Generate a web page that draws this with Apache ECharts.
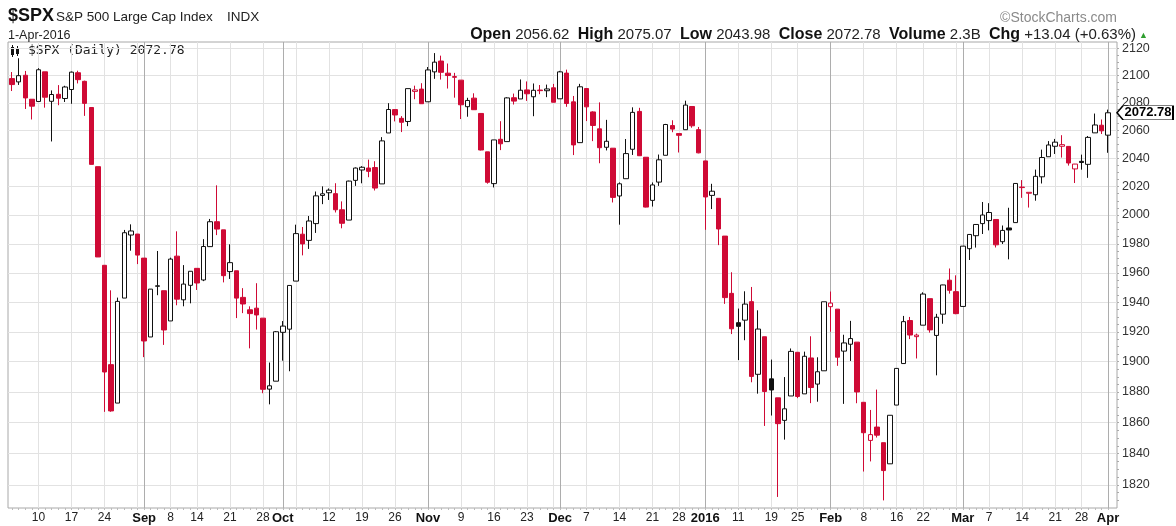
<!DOCTYPE html>
<html>
<head>
<meta charset="utf-8">
<title>$SPX Daily</title>
<script src="https://cdn.jsdelivr.net/npm/echarts@6/dist/echarts.min.js"></script>
<style>
  html, body { margin: 0; padding: 0; background: #fff; }
  #chart { width: 1176px; height: 526px; }
</style>
</head>
<body>
<div id="chart"></div>
<script>
// trading days, Aug 4 2015 - Apr 1 2016
const dates = [
  '2015-08-04','2015-08-05','2015-08-06','2015-08-07','2015-08-10','2015-08-11','2015-08-12','2015-08-13','2015-08-14','2015-08-17',
  '2015-08-18','2015-08-19','2015-08-20','2015-08-21','2015-08-24','2015-08-25','2015-08-26','2015-08-27','2015-08-28','2015-08-31',
  '2015-09-01','2015-09-02','2015-09-03','2015-09-04','2015-09-08','2015-09-09','2015-09-10','2015-09-11','2015-09-14','2015-09-15',
  '2015-09-16','2015-09-17','2015-09-18','2015-09-21','2015-09-22','2015-09-23','2015-09-24','2015-09-25','2015-09-28','2015-09-29','2015-09-30',
  '2015-10-01','2015-10-02','2015-10-05','2015-10-06','2015-10-07','2015-10-08','2015-10-09','2015-10-12','2015-10-13','2015-10-14','2015-10-15',
  '2015-10-16','2015-10-19','2015-10-20','2015-10-21','2015-10-22','2015-10-23','2015-10-26','2015-10-27','2015-10-28','2015-10-29','2015-10-30',
  '2015-11-02','2015-11-03','2015-11-04','2015-11-05','2015-11-06','2015-11-09','2015-11-10','2015-11-11','2015-11-12','2015-11-13',
  '2015-11-16','2015-11-17','2015-11-18','2015-11-19','2015-11-20','2015-11-23','2015-11-24','2015-11-25','2015-11-27','2015-11-30',
  '2015-12-01','2015-12-02','2015-12-03','2015-12-04','2015-12-07','2015-12-08','2015-12-09','2015-12-10','2015-12-11','2015-12-14','2015-12-15',
  '2015-12-16','2015-12-17','2015-12-18','2015-12-21','2015-12-22','2015-12-23','2015-12-24','2015-12-28','2015-12-29','2015-12-30','2015-12-31',
  '2016-01-04','2016-01-05','2016-01-06','2016-01-07','2016-01-08','2016-01-11','2016-01-12','2016-01-13','2016-01-14','2016-01-15',
  '2016-01-19','2016-01-20','2016-01-21','2016-01-22','2016-01-25','2016-01-26','2016-01-27','2016-01-28','2016-01-29',
  '2016-02-01','2016-02-02','2016-02-03','2016-02-04','2016-02-05','2016-02-08','2016-02-09','2016-02-10','2016-02-11','2016-02-12',
  '2016-02-16','2016-02-17','2016-02-18','2016-02-19','2016-02-22','2016-02-23','2016-02-24','2016-02-25','2016-02-26','2016-02-29',
  '2016-03-01','2016-03-02','2016-03-03','2016-03-04','2016-03-07','2016-03-08','2016-03-09','2016-03-10','2016-03-11','2016-03-14','2016-03-15',
  '2016-03-16','2016-03-17','2016-03-18','2016-03-21','2016-03-22','2016-03-23','2016-03-24','2016-03-28','2016-03-29','2016-03-30','2016-03-31',
  '2016-04-01'
];
const opens = [
  2097.68,2095.27,2100.13,2082.61,2080.98,2102.66,2081.10,2086.19,2083.15,2089.70,2101.99,2095.69,2076.61,2034.08,1965.15,1898.08,1872.75,1942.77,1986.06,1986.73,
  1970.09,1916.52,1950.79,1947.76,1927.30,1971.45,1941.59,1951.45,1963.06,1955.10,1978.02,1995.33,1989.66,1960.84,1961.39,1943.24,1934.81,1935.93,1929.18,1881.90,1887.14,
  1919.65,1921.77,1954.33,1986.63,1982.34,1994.01,2013.73,2015.65,2015.00,2003.66,1996.47,2024.37,2031.73,2033.13,2033.47,2021.88,2058.19,2075.08,2068.75,2066.48,2088.35,2090.00,
  2080.76,2102.63,2110.60,2101.68,2098.60,2096.56,2077.19,2083.41,2072.29,2044.64,2022.08,2053.67,2051.99,2083.70,2082.82,2089.41,2084.42,2089.30,2088.82,2090.95,
  2082.93,2101.71,2080.71,2051.24,2090.42,2073.39,2061.17,2047.93,2047.27,2013.37,2025.55,2046.50,2073.76,2040.81,2010.27,2023.15,2042.20,2063.52,2057.77,2060.54,2077.34,2060.59,
  2038.20,2013.78,2011.71,1985.32,1945.97,1926.12,1927.83,1940.34,1891.68,1916.68,1888.66,1876.18,1861.46,1877.40,1906.28,1878.79,1902.52,1885.22,1894.00,
  1936.94,1935.26,1907.07,1911.67,1913.07,1873.25,1848.46,1857.10,1847.00,1833.40,1871.44,1898.80,1927.57,1916.74,1924.44,1942.38,1917.56,1931.87,1954.95,1947.13,
  1937.09,1976.60,1985.60,1994.01,1996.11,1996.88,1981.44,1990.97,1994.71,2019.27,2015.27,2014.24,2026.90,2041.16,2048.64,2048.64,2048.55,2032.48,2037.89,2035.75,2058.27,2063.77,
  2056.62
];
const highs = [
  2102.51,2112.66,2103.32,2082.61,2105.35,2102.66,2089.06,2092.93,2092.45,2102.87,2103.47,2096.17,2076.61,2034.08,1965.15,1948.04,1943.09,1989.60,1993.48,1986.73,
  1970.09,1948.91,1975.01,1947.76,1970.42,1988.63,1965.29,1961.05,1963.06,1983.19,1997.26,2020.86,1989.66,1979.64,1961.39,1949.52,1937.17,1952.89,1929.18,1899.48,1920.53,
  1927.21,1951.36,1993.26,1991.62,1999.31,2016.50,2020.13,2018.66,2022.34,2009.56,2024.15,2033.54,2034.45,2039.12,2037.97,2055.20,2079.74,2075.14,2070.37,2090.35,2092.52,2094.32,
  2106.20,2116.48,2114.59,2108.78,2101.91,2096.56,2083.67,2086.94,2072.29,2044.64,2053.22,2066.69,2084.07,2086.74,2097.06,2095.61,2094.12,2093.00,2093.29,2093.81,
  2103.37,2104.27,2085.00,2093.84,2090.42,2073.85,2080.33,2067.65,2047.27,2022.92,2053.87,2076.72,2076.37,2040.81,2022.90,2042.74,2064.73,2067.36,2057.77,2081.56,2077.34,2062.54,
  2038.20,2021.94,2011.71,1985.32,1960.40,1935.65,1947.38,1950.33,1934.47,1916.68,1901.44,1876.18,1889.85,1908.85,1906.28,1906.73,1916.99,1902.96,1940.24,
  1947.20,1935.26,1918.01,1927.35,1913.07,1873.25,1868.25,1881.60,1847.00,1864.78,1895.77,1930.68,1930.00,1918.78,1946.70,1942.38,1932.08,1951.83,1962.96,1958.27,
  1978.35,1986.51,1993.69,2009.13,2008.29,1996.88,1992.69,2005.08,2022.37,2024.57,2015.94,2032.02,2046.24,2052.36,2053.91,2056.60,2048.55,2036.04,2042.67,2056.02,2072.21,2067.92,
  2075.07
];
const lows = [
  2088.60,2093.05,2075.53,2067.91,2080.98,2076.49,2052.09,2078.26,2080.61,2079.30,2094.14,2070.53,2035.73,1970.89,1867.01,1867.08,1872.75,1942.77,1975.19,1965.98,
  1903.07,1916.52,1944.72,1911.21,1927.30,1937.88,1937.19,1939.19,1948.27,1954.30,1977.93,1986.00,1953.45,1955.80,1929.22,1932.57,1908.92,1921.50,1879.21,1871.91,1887.14,
  1900.70,1893.70,1954.33,1971.99,1976.44,1987.53,2007.61,2010.55,2001.78,1990.73,1996.47,2020.46,2022.31,2026.61,2017.22,2021.88,2058.19,2066.53,2058.84,2063.11,2082.63,2079.34,
  2080.76,2097.51,2096.98,2090.41,2083.74,2068.24,2069.91,2074.85,2045.66,2022.02,2019.39,2045.90,2051.99,2078.76,2082.82,2081.39,2070.29,2086.30,2084.13,2080.41,
  2082.93,2077.11,2042.35,2051.24,2066.78,2052.32,2036.53,2045.67,2008.80,1993.26,2025.55,2042.43,2041.66,2005.33,2005.93,2020.49,2042.20,2058.73,2044.20,2060.54,2061.97,2043.62,
  1989.68,2004.17,1979.05,1938.83,1918.46,1901.10,1914.35,1886.41,1878.93,1857.83,1864.60,1812.29,1848.98,1877.40,1875.97,1878.79,1872.70,1873.65,1894.00,
  1920.03,1897.29,1872.23,1900.52,1872.65,1828.46,1834.94,1850.32,1810.10,1833.40,1871.44,1898.80,1915.09,1902.17,1924.44,1919.44,1891.00,1925.41,1945.78,1931.81,
  1937.09,1968.80,1977.37,1986.77,1989.30,1977.43,1979.84,1969.25,1994.71,2012.05,2005.23,2010.04,2022.16,2041.16,2043.14,2040.57,2034.86,2022.49,2031.96,2026.17,2058.27,2057.46,
  2043.98
];
const closes = [
  2093.32,2099.84,2083.56,2077.57,2104.18,2084.07,2086.05,2083.39,2091.54,2102.44,2096.92,2079.61,2035.73,1970.89,1893.21,1867.61,1940.51,1987.66,1988.87,1972.18,
  1913.85,1948.86,1951.13,1921.22,1969.41,1942.04,1952.29,1961.05,1953.03,1978.09,1995.31,1990.20,1958.03,1966.97,1942.74,1938.76,1932.24,1931.34,1881.77,1884.09,1920.03,
  1923.82,1951.36,1987.05,1979.92,1995.83,2013.43,2014.89,2017.46,2003.69,1994.24,2023.86,2033.11,2033.66,2030.77,2018.94,2052.51,2075.15,2071.18,2065.89,2090.35,2089.41,2079.36,
  2104.05,2109.79,2102.31,2099.93,2099.20,2078.58,2081.72,2075.00,2045.97,2023.04,2053.19,2050.44,2083.58,2081.24,2089.17,2086.59,2089.14,2088.87,2090.11,2080.41,
  2102.63,2079.51,2049.62,2091.69,2077.07,2063.59,2047.62,2052.23,2012.37,2021.94,2043.41,2073.07,2041.89,2005.55,2021.15,2038.97,2064.29,2060.99,2056.50,2078.36,2063.36,2043.94,
  2012.66,2016.71,1990.26,1943.09,1922.03,1923.67,1938.68,1890.28,1921.84,1880.33,1881.33,1859.33,1868.99,1906.90,1877.08,1903.63,1882.95,1893.36,1940.24,
  1939.38,1903.03,1912.53,1915.45,1880.05,1853.44,1852.21,1851.86,1829.08,1864.78,1895.58,1926.82,1917.83,1917.78,1945.50,1921.27,1929.80,1951.70,1948.05,1932.23,
  1978.35,1986.45,1993.40,1999.99,2001.76,1979.26,1989.26,1989.57,2022.19,2019.64,2015.93,2027.22,2040.59,2049.58,2051.60,2049.80,2036.71,2035.94,2037.05,2055.01,2063.95,2059.74,
  2072.78
];

// x-axis labels
const tickDates = ['2015-08-10','2015-08-17','2015-08-24','2015-09-01','2015-09-08','2015-09-14','2015-09-21','2015-09-28','2015-10-01',
  '2015-10-12','2015-10-19','2015-10-26','2015-11-02','2015-11-09','2015-11-16','2015-11-23','2015-12-01','2015-12-07','2015-12-14',
  '2015-12-21','2015-12-28','2016-01-04','2016-01-11','2016-01-19','2016-01-25','2016-02-01','2016-02-08','2016-02-16','2016-02-22',
  '2016-03-01','2016-03-07','2016-03-14','2016-03-21','2016-03-28','2016-04-01'];
const tickTexts = ['10','17','24','Sep','8','14','21','28','Oct','12','19','26','Nov','9','16','23','Dec','7','14','21','28','2016',
  '11','19','25','Feb','8','16','22','Mar','7','14','21','28','Apr'];
// weekly and monthly vertical grid lines
const weekDates = ['2015-08-10','2015-08-17','2015-08-24','2015-08-31','2015-09-08','2015-09-14','2015-09-21','2015-09-28','2015-10-05',
  '2015-10-12','2015-10-19','2015-10-26','2015-11-02','2015-11-09','2015-11-16','2015-11-23','2015-11-30','2015-12-07','2015-12-14',
  '2015-12-21','2015-12-28','2016-01-04','2016-01-11','2016-01-19','2016-01-25','2016-02-01','2016-02-08','2016-02-16','2016-02-22',
  '2016-02-29','2016-03-07','2016-03-14','2016-03-21','2016-03-28'];
const monthDates = ['2015-09-01','2015-10-01','2015-11-02','2015-12-01','2016-01-04','2016-02-01','2016-03-01','2016-04-01'];

// y-axis labels (log scale)
const yTicks = [1820,1840,1860,1880,1900,1920,1940,1960,1980,2000,2020,2040,2060,2080,2100,2120];
const yMinorTicks = [];
for (let v = 1810; v <= 2120; v += 5) yMinorTicks.push(v);

const RED = '#cf0a35';
const BLACK = '#111';

const labelMap = {};
tickDates.forEach((d, i) => { labelMap[d] = tickTexts[i]; });

const candles = dates.map((d, i) => {
  const prev = i > 0 ? closes[i - 1] : opens[i];
  const c = closes[i] >= prev ? BLACK : RED;
  const fill = closes[i] > opens[i] ? '#fff' : c;
  return {
    value: [opens[i], closes[i], lows[i], highs[i]],
    itemStyle: { color: fill, color0: fill, borderColor: c, borderColor0: c, borderColorDoji: c, borderWidth: 1 }
  };
});

const last = dates.length - 1;
const yMin = 1805.3, yMax = 2124.7;
const font = 'Liberation Sans, Arial, sans-serif';

const chart = echarts.init(document.getElementById('chart'));
chart.setOption({
  animation: false,
  backgroundColor: '#fff',
  grid: [
    { left: 8, right: 59, top: 42, bottom: 18, show: true, borderColor: '#a8a8a8', borderWidth: 1, backgroundColor: 'transparent' },
    { left: 8.8, right: 64.7, top: 42, bottom: 18 }
  ],
  xAxis: [
    {
      type: 'category', gridIndex: 1, data: dates, boundaryGap: true,
      axisLine: { show: false },
      axisTick: { show: true, interval: 0, alignWithLabel: true, length: 2, inside: false, lineStyle: { color: '#bbb' } },
      axisLabel: {
        interval: (i, v) => labelMap.hasOwnProperty(v),
        margin: 4, color: '#222', fontSize: 12, fontFamily: font,
        formatter: v => {
          const t = labelMap[v];
          return /^\d{1,2}$/.test(t) ? t : '{b|' + t + '}';
        },
        rich: { b: { fontWeight: 'bold', fontSize: 13, color: '#111', fontFamily: font } }
      },
      splitLine: {
        show: true, alignWithLabel: true,
        interval: (i, v) => weekDates.indexOf(v) >= 0,
        lineStyle: { color: '#e2e2e2', width: 1 }
      }
    },
    {
      type: 'category', gridIndex: 1, data: dates, boundaryGap: true,
      axisLine: { show: false }, axisTick: { show: false }, axisLabel: { show: false },
      splitLine: {
        show: true, alignWithLabel: true,
        interval: (i, v) => monthDates.indexOf(v) >= 0,
        lineStyle: { color: '#adadad', width: 1 }
      }
    },
    {
      // frame grid needs an x axis of its own; nothing of it is drawn
      type: 'category', gridIndex: 0, data: dates, show: false
    }
  ],
  yAxis: [
    {
      type: 'log', logBase: 10, gridIndex: 0, position: 'right', min: yMin, max: yMax,
      axisLine: { show: false },
      axisTick: { show: false, customValues: yTicks },
      axisLabel: { customValues: yTicks, formatter: v => String(Math.round(v)), color: '#333', fontSize: 12.5, fontFamily: font, margin: 5 },
      splitLine: { show: true, lineStyle: { color: '#e2e2e2', width: 1 } }
    },
    {
      type: 'log', logBase: 10, gridIndex: 1, min: yMin, max: yMax, show: false
    },
    {
      type: 'log', logBase: 10, gridIndex: 0, position: 'right', min: yMin, max: yMax,
      axisLine: { show: false }, axisLabel: { show: false }, splitLine: { show: false },
      axisTick: { show: true, customValues: yMinorTicks, length: 2, lineStyle: { color: '#aaa' } }
    }
  ],
  series: [
    {
      type: 'candlestick', xAxisIndex: 0, yAxisIndex: 1, data: candles, barWidth: 5,
      markPoint: {
        silent: true, animation: false,
        data: [{
          coord: [dates[last], closes[last]],
          symbol: 'path://M0,7 L6,0 L56,0 L56,14 L6,14 Z', symbolSize: [56, 14], symbolOffset: [37, 0],
          itemStyle: { color: '#fff', borderColor: '#000', borderWidth: 1 },
          label: { show: true, position: 'inside', offset: [3, 0], formatter: closes[last].toFixed(2), color: '#000', fontWeight: 'bold', fontSize: 13, fontFamily: font }
        }]
      }
    }
  ],
  graphic: [
    { type: 'text', left: 8, top: 7, style: { text: '$SPX', font: 'bold 18px ' + font, fill: '#111' } },
    { type: 'text', left: 56, top: 10, style: { text: 'S&P 500 Large Cap Index', font: '13.5px ' + font, fill: '#222' } },
    { type: 'text', left: 227, top: 10, style: { text: 'INDX', font: '13.5px ' + font, fill: '#222' } },
    { type: 'text', left: 8, top: 29, style: { text: '1-Apr-2016', font: '12.5px ' + font, fill: '#222' } },
    { type: 'text', right: 59, top: 11, style: { text: '\u00A9StockCharts.com', font: '14px ' + font, fill: '#8a8a8a' } },
    {
      type: 'text', right: 40, top: 27,
      style: {
        text: '{b|Open} 2056.62  {b|High} 2075.07  {b|Low} 2043.98  {b|Close} 2072.78  {b|Volume} 2.3B  {b|Chg} +13.04 (+0.63%)',
        font: '15px ' + font, fill: '#222',
        rich: { b: { fontWeight: 'bold', fontSize: 16, fill: '#111', fontFamily: font } }
      }
    },
    { type: 'text', right: 28, top: 31, style: { text: '\u25B2', font: '9px ' + font, fill: '#2e9e2e' } },
    // legend icon + label inside the plot
    { type: 'rect', shape: { x: 11, y: 47, width: 3, height: 8 }, style: { fill: '#111' } },
    { type: 'line', shape: { x1: 12.5, y1: 45, x2: 12.5, y2: 57 }, style: { stroke: '#111', lineWidth: 1 } },
    { type: 'rect', shape: { x: 16, y: 48, width: 3, height: 6 }, style: { fill: '#111' } },
    { type: 'line', shape: { x1: 17.5, y1: 46, x2: 17.5, y2: 56 }, style: { stroke: '#111', lineWidth: 1 } },
    { type: 'text', left: 28, top: 44, style: { text: '$SPX (Daily) 2072.78', font: '13px DejaVu Sans Mono, monospace', fill: '#222' } }
  ]
});
</script>
</body>
</html>
